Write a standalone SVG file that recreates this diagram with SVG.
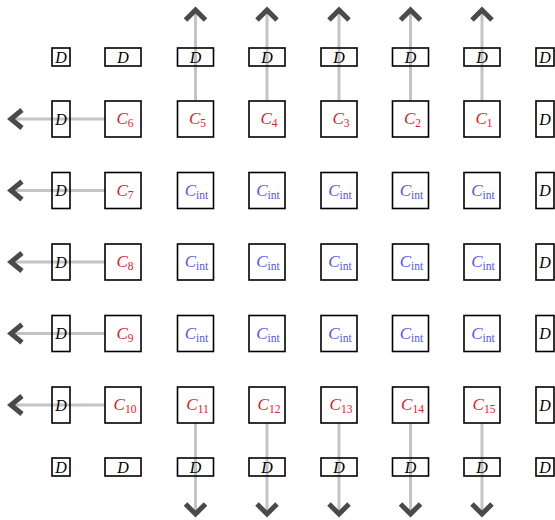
<svg xmlns="http://www.w3.org/2000/svg" width="555" height="520" viewBox="0 0 555 520">
<defs>
<style>
.box{fill:none;stroke:#000;stroke-width:1.6}
.ln{stroke:#c4c4c4;stroke-width:3;fill:none}
.hd{stroke:#4a4a4a;stroke-width:5;fill:none;stroke-linejoin:miter}
.d{font-family:"Liberation Serif",serif;font-style:italic;font-size:16px;fill:#000;text-anchor:middle}
.c{font-family:"Liberation Serif",serif;font-size:17px;text-anchor:middle}
.r{fill:#e0202a}
.b{fill:#5555ee}
.i{font-style:italic}
.s{font-size:11.5px}
</style>
</defs>
<rect width="555" height="520" fill="#fff"/>
<g id="connectors">
<line class="ln" x1="105" y1="119" x2="11" y2="119"/><polyline class="hd" points="22,110 11,119 22,128"/>
<line class="ln" x1="105" y1="190.5" x2="11" y2="190.5"/><polyline class="hd" points="22,181.5 11,190.5 22,199.5"/>
<line class="ln" x1="105" y1="262" x2="11" y2="262"/><polyline class="hd" points="22,253 11,262 22,271"/>
<line class="ln" x1="105" y1="333.5" x2="11" y2="333.5"/><polyline class="hd" points="22,324.5 11,333.5 22,342.5"/>
<line class="ln" x1="105" y1="405" x2="11" y2="405"/><polyline class="hd" points="22,396 11,405 22,414"/>
<line class="ln" x1="195.5" y1="101" x2="195.5" y2="10"/><polyline class="hd" points="185.5,20 195.5,10 205.5,20"/>
<line class="ln" x1="267" y1="101" x2="267" y2="10"/><polyline class="hd" points="257,20 267,10 277,20"/>
<line class="ln" x1="339" y1="101" x2="339" y2="10"/><polyline class="hd" points="329,20 339,10 349,20"/>
<line class="ln" x1="410.5" y1="101" x2="410.5" y2="10"/><polyline class="hd" points="400.5,20 410.5,10 420.5,20"/>
<line class="ln" x1="482" y1="101" x2="482" y2="10"/><polyline class="hd" points="472,20 482,10 492,20"/>
<line class="ln" x1="195.5" y1="423" x2="195.5" y2="514"/><polyline class="hd" points="185.5,504 195.5,514 205.5,504"/>
<line class="ln" x1="267" y1="423" x2="267" y2="514"/><polyline class="hd" points="257,504 267,514 277,504"/>
<line class="ln" x1="339" y1="423" x2="339" y2="514"/><polyline class="hd" points="329,504 339,514 349,504"/>
<line class="ln" x1="410.5" y1="423" x2="410.5" y2="514"/><polyline class="hd" points="400.5,504 410.5,514 420.5,504"/>
<line class="ln" x1="482" y1="423" x2="482" y2="514"/><polyline class="hd" points="472,504 482,514 492,504"/>
</g>
<!-- top D row -->
<g id="dt0"><rect class="box" x="52" y="48" width="18" height="18"/><text class="d" x="61" y="62.5">D</text></g>
<g id="dt1"><rect class="box" x="105" y="48" width="36" height="18"/><text class="d" x="123" y="62.5">D</text></g>
<g id="dt2"><rect class="box" x="177.5" y="48" width="36" height="18"/><text class="d" x="195.5" y="62.5">D</text></g>
<g id="dt3"><rect class="box" x="249" y="48" width="36" height="18"/><text class="d" x="267" y="62.5">D</text></g>
<g id="dt4"><rect class="box" x="321" y="48" width="36" height="18"/><text class="d" x="339" y="62.5">D</text></g>
<g id="dt5"><rect class="box" x="392.5" y="48" width="36" height="18"/><text class="d" x="410.5" y="62.5">D</text></g>
<g id="dt6"><rect class="box" x="464" y="48" width="36" height="18"/><text class="d" x="482" y="62.5">D</text></g>
<g id="dt7"><rect class="box" x="536" y="48" width="18" height="18"/><text class="d" x="545" y="62.5">D</text></g>
<!-- bottom D row -->
<g id="db0"><rect class="box" x="52" y="458" width="18" height="18"/><text class="d" x="61" y="472.5">D</text></g>
<g id="db1"><rect class="box" x="105" y="458" width="36" height="18"/><text class="d" x="123" y="472.5">D</text></g>
<g id="db2"><rect class="box" x="177.5" y="458" width="36" height="18"/><text class="d" x="195.5" y="472.5">D</text></g>
<g id="db3"><rect class="box" x="249" y="458" width="36" height="18"/><text class="d" x="267" y="472.5">D</text></g>
<g id="db4"><rect class="box" x="321" y="458" width="36" height="18"/><text class="d" x="339" y="472.5">D</text></g>
<g id="db5"><rect class="box" x="392.5" y="458" width="36" height="18"/><text class="d" x="410.5" y="472.5">D</text></g>
<g id="db6"><rect class="box" x="464" y="458" width="36" height="18"/><text class="d" x="482" y="472.5">D</text></g>
<g id="db7"><rect class="box" x="536" y="458" width="18" height="18"/><text class="d" x="545" y="472.5">D</text></g>
<!-- left D column -->
<g id="dl1"><rect class="box" x="52" y="101" width="18" height="36"/><text class="d" x="61" y="124.5">D</text></g>
<g id="dl2"><rect class="box" x="52" y="172.5" width="18" height="36"/><text class="d" x="61" y="196">D</text></g>
<g id="dl3"><rect class="box" x="52" y="244" width="18" height="36"/><text class="d" x="61" y="267.5">D</text></g>
<g id="dl4"><rect class="box" x="52" y="315.5" width="18" height="36"/><text class="d" x="61" y="339">D</text></g>
<g id="dl5"><rect class="box" x="52" y="387" width="18" height="36"/><text class="d" x="61" y="410.5">D</text></g>
<!-- right D column -->
<g id="dr1"><rect class="box" x="536" y="101" width="18" height="36"/><text class="d" x="545" y="124.5">D</text></g>
<g id="dr2"><rect class="box" x="536" y="172.5" width="18" height="36"/><text class="d" x="545" y="196">D</text></g>
<g id="dr3"><rect class="box" x="536" y="244" width="18" height="36"/><text class="d" x="545" y="267.5">D</text></g>
<g id="dr4"><rect class="box" x="536" y="315.5" width="18" height="36"/><text class="d" x="545" y="339">D</text></g>
<g id="dr5"><rect class="box" x="536" y="387" width="18" height="36"/><text class="d" x="545" y="410.5">D</text></g>
<!-- row 1 -->
<g id="c6"><rect class="box" x="105" y="101" width="36" height="36"/><text class="c r" x="125" y="124"><tspan class="i">C</tspan><tspan class="s" dy="3">6</tspan></text></g>
<g id="c5"><rect class="box" x="177.5" y="101" width="36" height="36"/><text class="c r" x="197.5" y="124"><tspan class="i">C</tspan><tspan class="s" dy="3">5</tspan></text></g>
<g id="c4"><rect class="box" x="249" y="101" width="36" height="36"/><text class="c r" x="269" y="124"><tspan class="i">C</tspan><tspan class="s" dy="3">4</tspan></text></g>
<g id="c3"><rect class="box" x="321" y="101" width="36" height="36"/><text class="c r" x="341" y="124"><tspan class="i">C</tspan><tspan class="s" dy="3">3</tspan></text></g>
<g id="c2"><rect class="box" x="392.5" y="101" width="36" height="36"/><text class="c r" x="412.5" y="124"><tspan class="i">C</tspan><tspan class="s" dy="3">2</tspan></text></g>
<g id="c1"><rect class="box" x="464" y="101" width="36" height="36"/><text class="c r" x="484" y="124"><tspan class="i">C</tspan><tspan class="s" dy="3">1</tspan></text></g>
<!-- row 2 -->
<g id="c7"><rect class="box" x="105" y="172.5" width="36" height="36"/><text class="c r" x="125" y="195.5"><tspan class="i">C</tspan><tspan class="s" dy="3">7</tspan></text></g>
<g id="ci21"><rect class="box" x="177.5" y="172.5" width="36" height="36"/><text class="c b" x="196.5" y="195.5"><tspan class="i">C</tspan><tspan class="s" dy="3">int</tspan></text></g>
<g id="ci22"><rect class="box" x="249" y="172.5" width="36" height="36"/><text class="c b" x="268" y="195.5"><tspan class="i">C</tspan><tspan class="s" dy="3">int</tspan></text></g>
<g id="ci23"><rect class="box" x="321" y="172.5" width="36" height="36"/><text class="c b" x="340" y="195.5"><tspan class="i">C</tspan><tspan class="s" dy="3">int</tspan></text></g>
<g id="ci24"><rect class="box" x="392.5" y="172.5" width="36" height="36"/><text class="c b" x="411.5" y="195.5"><tspan class="i">C</tspan><tspan class="s" dy="3">int</tspan></text></g>
<g id="ci25"><rect class="box" x="464" y="172.5" width="36" height="36"/><text class="c b" x="483" y="195.5"><tspan class="i">C</tspan><tspan class="s" dy="3">int</tspan></text></g>
<!-- row 3 -->
<g id="c8"><rect class="box" x="105" y="244" width="36" height="36"/><text class="c r" x="125" y="267"><tspan class="i">C</tspan><tspan class="s" dy="3">8</tspan></text></g>
<g id="ci31"><rect class="box" x="177.5" y="244" width="36" height="36"/><text class="c b" x="196.5" y="267"><tspan class="i">C</tspan><tspan class="s" dy="3">int</tspan></text></g>
<g id="ci32"><rect class="box" x="249" y="244" width="36" height="36"/><text class="c b" x="268" y="267"><tspan class="i">C</tspan><tspan class="s" dy="3">int</tspan></text></g>
<g id="ci33"><rect class="box" x="321" y="244" width="36" height="36"/><text class="c b" x="340" y="267"><tspan class="i">C</tspan><tspan class="s" dy="3">int</tspan></text></g>
<g id="ci34"><rect class="box" x="392.5" y="244" width="36" height="36"/><text class="c b" x="411.5" y="267"><tspan class="i">C</tspan><tspan class="s" dy="3">int</tspan></text></g>
<g id="ci35"><rect class="box" x="464" y="244" width="36" height="36"/><text class="c b" x="483" y="267"><tspan class="i">C</tspan><tspan class="s" dy="3">int</tspan></text></g>
<!-- row 4 -->
<g id="c9"><rect class="box" x="105" y="315.5" width="36" height="36"/><text class="c r" x="125" y="338.5"><tspan class="i">C</tspan><tspan class="s" dy="3">9</tspan></text></g>
<g id="ci41"><rect class="box" x="177.5" y="315.5" width="36" height="36"/><text class="c b" x="196.5" y="338.5"><tspan class="i">C</tspan><tspan class="s" dy="3">int</tspan></text></g>
<g id="ci42"><rect class="box" x="249" y="315.5" width="36" height="36"/><text class="c b" x="268" y="338.5"><tspan class="i">C</tspan><tspan class="s" dy="3">int</tspan></text></g>
<g id="ci43"><rect class="box" x="321" y="315.5" width="36" height="36"/><text class="c b" x="340" y="338.5"><tspan class="i">C</tspan><tspan class="s" dy="3">int</tspan></text></g>
<g id="ci44"><rect class="box" x="392.5" y="315.5" width="36" height="36"/><text class="c b" x="411.5" y="338.5"><tspan class="i">C</tspan><tspan class="s" dy="3">int</tspan></text></g>
<g id="ci45"><rect class="box" x="464" y="315.5" width="36" height="36"/><text class="c b" x="483" y="338.5"><tspan class="i">C</tspan><tspan class="s" dy="3">int</tspan></text></g>
<!-- row 5 -->
<g id="c10"><rect class="box" x="105" y="387" width="36" height="36"/><text class="c r" x="125" y="410"><tspan class="i">C</tspan><tspan class="s" dy="3">10</tspan></text></g>
<g id="c11"><rect class="box" x="177.5" y="387" width="36" height="36"/><text class="c r" x="197.5" y="410"><tspan class="i">C</tspan><tspan class="s" dy="3">11</tspan></text></g>
<g id="c12"><rect class="box" x="249" y="387" width="36" height="36"/><text class="c r" x="269" y="410"><tspan class="i">C</tspan><tspan class="s" dy="3">12</tspan></text></g>
<g id="c13"><rect class="box" x="321" y="387" width="36" height="36"/><text class="c r" x="341" y="410"><tspan class="i">C</tspan><tspan class="s" dy="3">13</tspan></text></g>
<g id="c14"><rect class="box" x="392.5" y="387" width="36" height="36"/><text class="c r" x="412.5" y="410"><tspan class="i">C</tspan><tspan class="s" dy="3">14</tspan></text></g>
<g id="c15"><rect class="box" x="464" y="387" width="36" height="36"/><text class="c r" x="484" y="410"><tspan class="i">C</tspan><tspan class="s" dy="3">15</tspan></text></g>
</svg>
